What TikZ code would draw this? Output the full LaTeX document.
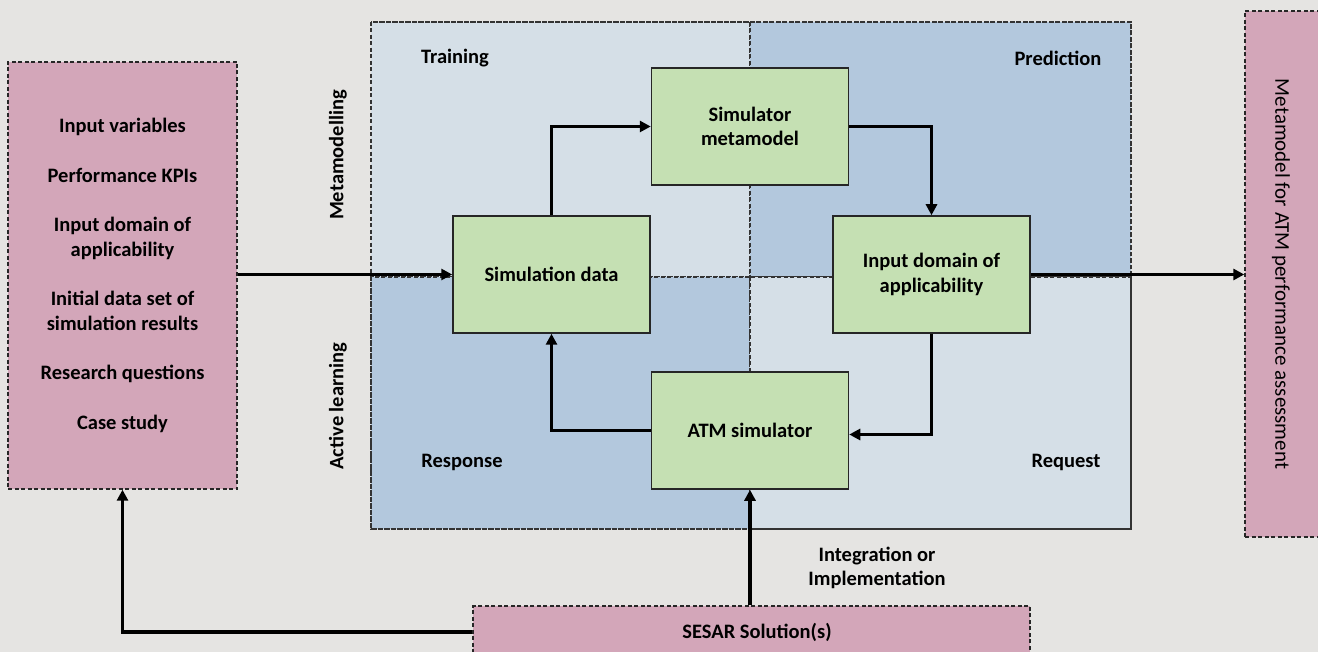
\documentclass[tikz,border=0pt]{standalone}
\usepackage{fontspec}
\setmainfont{Carlito}
\usetikzlibrary{arrows.meta,calc}

\definecolor{bg}{HTML}{E5E4E2}
\definecolor{rose}{HTML}{D3A6B9}
\definecolor{paleblue}{HTML}{D5DFE7}
\definecolor{deepblue}{HTML}{B3C8DD}
\definecolor{leaf}{HTML}{C5E0B3}

\tikzset{
  txt/.style={font=\fontsize{20.5}{24.5}\selectfont\bfseries, align=center, inner sep=0pt},
  plain/.style={font=\fontsize{21}{24.5}\selectfont, align=center, inner sep=0pt},
  dashes/.style={dash pattern=on 4pt off 2.5pt},
  outerbox/.style={draw=black!85, dashes, line width=1.4pt, fill=rose, inner sep=0pt},
  quad/.style={draw=black!80, dashes, line width=1.2pt},
  stage/.style={draw=black!85, line width=1.5pt, fill=leaf, minimum width=197pt,
    minimum height=117pt, inner sep=0pt, font=\fontsize{20.5}{24.5}\selectfont\bfseries, align=center},
  arr/.style={line width=3.5pt, -{Triangle[length=11pt,width=11pt]}}
}

\begin{document}
\begin{tikzpicture}[x=1pt,y=-1pt]
  % canvas
  \fill[bg] (0,0) rectangle (1318,652);
  \useasboundingbox (0,0) rectangle (1318,652);

  % four quadrants of the learning loop
  \filldraw[quad, fill=paleblue] (371,22) rectangle (750,277);
  \filldraw[quad, fill=deepblue] (750,22) rectangle (1131,277);
  \filldraw[quad, fill=deepblue] (371,277) rectangle (750,529);
  \filldraw[quad, fill=paleblue] (750,277) rectangle (1131,529);
  \draw[quad] (371,22) rectangle (1131,529);

  % quadrant captions
  \node[txt] (ltrain) at (455,58) {Training};
  \node[txt] (lpred) at (1058,58) {Prediction};
  \node[txt] (lresp) at (462,462) {Response};
  \node[txt] (lreq) at (1066,462) {Request};
  \node[txt, rotate=90] (lmeta) at (338,155) {Metamodelling};
  \node[txt, rotate=90] (lactive) at (338,406) {Active learning};

  % inputs
  \node[outerbox, txt, minimum width=229pt, minimum height=427pt] (inp) at (122.5,275.5)
    {Input variables\\[25pt]
     Performance KPIs\\[25pt]
     Input domain of\\applicability\\[25pt]
     Initial data set of\\simulation results\\[25pt]
     Research questions\\[25pt]
     Case study};

  % output
  \node[outerbox, minimum width=77pt, minimum height=526pt] (out) at (1283.5,274) {};
  \node[plain, rotate=-90] (outlbl) at (1281,274) {Metamodel for ATM performance assessment};

  % SESAR solutions
  \node[outerbox, txt, minimum width=557pt, minimum height=52pt] (ses) at (751.5,632) {};
  \node[txt] (seslbl) at (757,632) {SESAR Solution(s)};

  % stages of the loop
  \node[stage] (mm) at (750,126.5) {Simulator\\metamodel};
  \node[stage] (sd) at (551.5,274.5) {Simulation data};
  \node[stage] (dom) at (931.5,274.5) {Input domain of\\applicability};
  \node[stage] (atm) at (750,430.5) {ATM simulator};

  % loop connectors
  \draw[arr] (sd.north) |- (mm.west);
  \draw[arr] (mm.east) -| (dom.north);
  \draw[arr] (dom.south) |- ([yshift=-4pt]atm.east);
  \draw[arr] (atm.west) -| (sd.south);

  % flows in and out
  \draw[arr] (inp.east |- sd.west) -- (sd.west);
  \draw[arr] (dom.east) -- (dom.east -| out.west);
  \draw[arr] (ses.north -| atm.south) -- (atm.south);
  \draw[arr] (ses.west) -| (inp.south);

  \node[txt] (integ) at (877,568) {Integration or\\Implementation};
\end{tikzpicture}
\end{document}
